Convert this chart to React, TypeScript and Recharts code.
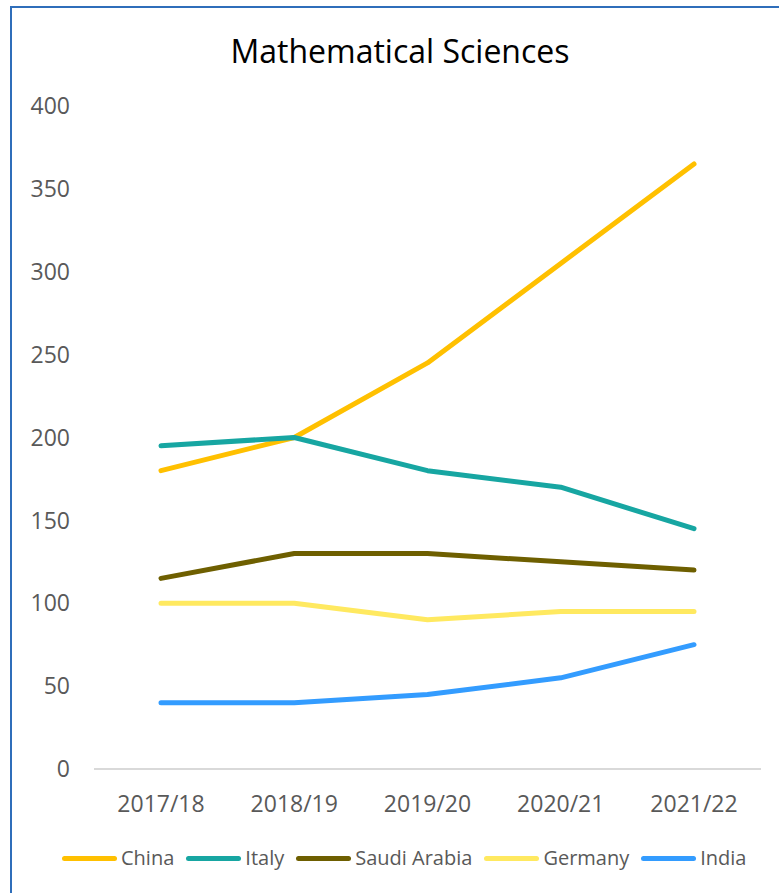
import React from "react";
import { LineChart, Line, XAxis, YAxis } from "recharts";

const years = ["2017/18", "2018/19", "2019/20", "2020/21", "2021/22"];
const china = [180, 200, 245, 305, 365];
const italy = [195, 200, 180, 170, 145];
const saudiArabia = [115, 130, 130, 125, 120];
const germany = [100, 100, 90, 95, 95];
const india = [40, 40, 45, 55, 75];
const yTicks = [0, 50, 100, 150, 200, 250, 300, 350, 400];

const series = [
  { key: "China", values: china, color: "#FFC000" },
  { key: "Italy", values: italy, color: "#17A6A2" },
  { key: "Saudi Arabia", values: saudiArabia, color: "#6E5F00" },
  { key: "Germany", values: germany, color: "#FFE960" },
  { key: "India", values: india, color: "#339CFF" },
];

const data = years.map((year, i) => {
  const row: Record<string, any> = { year };
  series.forEach((s) => {
    row[s.key] = s.values[i];
  });
  return row;
});

const font = "'Open Sans', sans-serif";
const tickStyle = { fill: "#595959", fontSize: 23, fontFamily: font };

const App: React.FC = () => {
  return (
    <div
      style={{
        position: "absolute",
        left: 10,
        top: 6,
        width: 800,
        height: 900,
        border: "2px solid #2F6EBA",
        background: "#fff",
        fontFamily: font,
      }}
    >
      <div
        style={{
          position: "absolute",
          top: 27,
          left: 0,
          width: 776,
          textAlign: "center",
          fontSize: 32,
          lineHeight: 1,
          color: "#000",
        }}
      >
        Mathematical Sciences
      </div>
      <LineChart
        width={767}
        height={885}
        data={data}
        margin={{ top: 98, right: 18, left: 0, bottom: 84 }}
      >
        <XAxis
          dataKey="year"
          padding={{ left: 67, right: 67 }}
          height={40}
          axisLine={{ stroke: "#D9D9D9", strokeWidth: 2 }}
          tickLine={false}
          tickSize={0}
          tickMargin={27}
          tick={tickStyle}
        />
        <YAxis
          width={82}
          domain={[0, 400]}
          ticks={yTicks}
          axisLine={false}
          tickLine={false}
          tickSize={0}
          tickMargin={24}
          tick={tickStyle}
        />
        {series.map((s) => (
          <Line
            key={s.key}
            type="linear"
            dataKey={s.key}
            stroke={s.color}
            strokeWidth={5}
            strokeLinecap="round"
            strokeLinejoin="round"
            dot={false}
            activeDot={false}
            isAnimationActive={false}
          />
        ))}
      </LineChart>
      <div
        style={{
          position: "absolute",
          top: 840,
          left: 50,
          display: "flex",
          alignItems: "center",
          fontSize: 20,
          lineHeight: 1,
          color: "#595959",
          whiteSpace: "nowrap",
        }}
      >
        {series.map((s) => (
          <div key={s.key} style={{ display: "flex", alignItems: "center", marginRight: 12 }}>
            <div
              style={{
                width: 55,
                height: 5,
                borderRadius: 3,
                background: s.color,
                marginRight: 4,
              }}
            />
            <span>{s.key}</span>
          </div>
        ))}
      </div>
    </div>
  );
};

export default App;
